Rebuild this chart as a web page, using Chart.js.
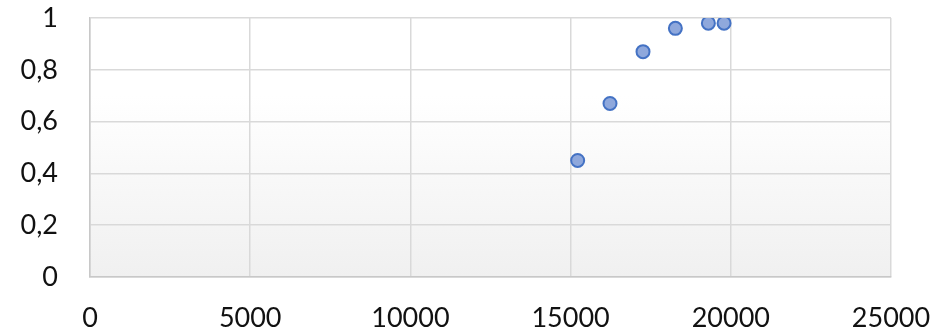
<!DOCTYPE html>
<html>
<head>
<meta charset="utf-8">
<script src="https://cdn.jsdelivr.net/npm/chart.js@4/dist/chart.umd.min.js"></script>
<style>
html,body{margin:0;padding:0;background:#fff;}
#wrap{width:940px;height:332px;position:relative;}
</style>
</head>
<body>
<div id="wrap"><canvas id="c" width="940" height="332"></canvas></div>
<script>
const xValues = [15220, 16230, 17260, 18270, 19300, 19790];
const yValues = [0.45, 0.67, 0.87, 0.96, 0.98, 0.98];
const xTicks = [0, 5000, 10000, 15000, 20000, 25000];
const yTicks = [0, 0.2, 0.4, 0.6, 0.8, 1];

const points = xValues.map((x, i) => ({x: x, y: yValues[i]}));

const bgPlugin = {
  id: 'plotBg',
  beforeDraw(chart) {
    const {ctx, chartArea: a} = chart;
    const g = ctx.createLinearGradient(0, a.top, 0, a.bottom);
    g.addColorStop(0, '#ffffff');
    g.addColorStop(0.3, '#ffffff');
    g.addColorStop(1, '#f0f0f0');
    ctx.save();
    ctx.fillStyle = g;
    ctx.fillRect(a.left, a.top, a.right - a.left, a.bottom - a.top);
    ctx.restore();
  }
};

const FONT = {family: 'Lato, Carlito, "Open Sans", sans-serif', size: 27};

new Chart(document.getElementById('c'), {
  type: 'scatter',
  data: {
    datasets: [{
      data: points,
      backgroundColor: '#8FA8DC',
      borderColor: '#4472C4',
      borderWidth: 2,
      pointRadius: 6.5,
      pointHoverRadius: 6.5
    }]
  },
  plugins: [bgPlugin],
  options: {
    responsive: false,
    animation: false,
    events: [],
    layout: {padding: {left: 0, right: 49, top: 18, bottom: 0}},
    plugins: {legend: {display: false}, tooltip: {enabled: false}},
    scales: {
      x: {
        type: 'linear',
        min: 0, max: 25000,
        afterBuildTicks(scale) { scale.ticks = xTicks.map(v => ({value: v})); },
        afterFit(scale) { scale.height = 55; scale.paddingLeft = 0; scale.paddingRight = 0; },
        grid: {color: '#D9D9D9', lineWidth: 1.5, drawTicks: false},
        border: {color: '#C8C8C8', width: 1.5},
        ticks: {
          padding: 25,
          color: '#111',
          font: FONT,
          maxRotation: 0,
          autoSkip: false,
          callback: v => String(v)
        }
      },
      y: {
        type: 'linear',
        min: 0, max: 1,
        afterBuildTicks(scale) { scale.ticks = yTicks.map(v => ({value: v})); },
        afterFit(scale) { scale.width = 90; scale.paddingTop = 0; scale.paddingBottom = 0; },
        grid: {color: '#D9D9D9', lineWidth: 1.5, drawTicks: false},
        border: {color: '#C8C8C8', width: 1.5},
        ticks: {
          padding: 32,
          color: '#111',
          font: FONT,
          autoSkip: false,
          callback: v => String(Math.round(v * 10) / 10).replace('.', ',')
        }
      }
    }
  }
});
</script>
</body>
</html>
